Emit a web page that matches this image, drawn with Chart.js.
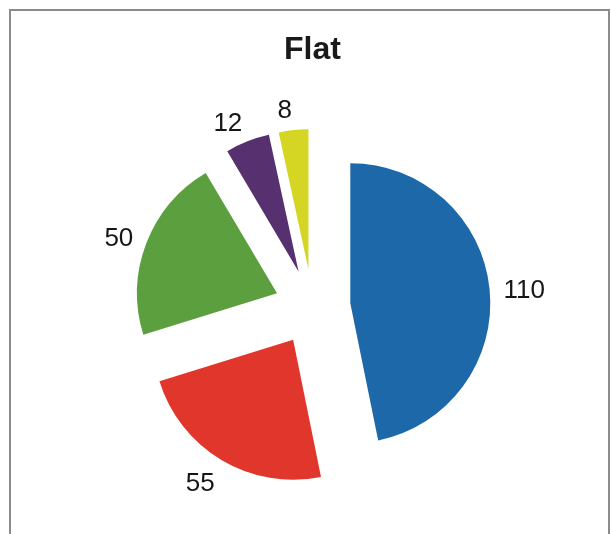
<!DOCTYPE html>
<html>
<head>
<meta charset="utf-8">
<title>Flat</title>
<script src="https://cdn.jsdelivr.net/npm/chart.js@4.4.1/dist/chart.umd.min.js"></script>
<style>
    html, body { margin: 0; padding: 0; background: #fff; overflow: hidden; }
    #wrap { position: relative; width: 611px; height: 534px; }
    #frame { position: absolute; left: 9px; top: 9px; width: 601px; height: 600px; border: 2px solid #8c8c8c; box-sizing: border-box; }
    #pieChart { position: absolute; left: 0; top: 0; }
</style>
</head>
<body>
<div id="wrap">
    <div id="frame"></div>
    <canvas id="pieChart" width="611" height="534"></canvas>
</div>
<script>
// data
const categories = ['Series 1', 'Series 2', 'Series 3', 'Series 4', 'Series 5'];
const values = [110, 55, 50, 12, 8];
const sliceColors = ['#1c68a8', '#e0362b', '#5c9f3e', '#57306f', '#d5d623'];

const EXPLODE = 38;   // px each slice is pulled out from the centre
const FONT = 'Liberation Sans, Arial, sans-serif';

// draw every arc pulled out along its own middle angle
const explodePlugin = {
    id: 'explode',
    beforeDatasetDraw(chart, args) {
        const ctx = chart.ctx;
        args.meta.data.forEach(arc => {
            const mid = (arc.startAngle + arc.endAngle) / 2;
            ctx.save();
            ctx.translate(Math.cos(mid) * EXPLODE, Math.sin(mid) * EXPLODE);
            arc.draw(ctx, chart.chartArea);
            ctx.restore();
        });
        return false;
    }
};

// value labels outside each slice
const valueLabels = {
    id: 'valueLabels',
    afterDatasetsDraw(chart) {
        const ctx = chart.ctx;
        const meta = chart.getDatasetMeta(0);
        ctx.save();
        ctx.font = '26px ' + FONT;
        ctx.fillStyle = '#161616';
        ctx.textAlign = 'center';
        ctx.textBaseline = 'middle';
        meta.data.forEach((arc, i) => {
            const p = arc.getProps(['x', 'y', 'startAngle', 'endAngle', 'outerRadius'], true);
            const mid = (p.startAngle + p.endAngle) / 2;
            const dx = Math.cos(mid), dy = Math.sin(mid);
            const r = p.outerRadius + EXPLODE + 14;
            const text = String(values[i]);
            const halfW = ctx.measureText(text).width / 2;
            const halfH = 9;
            const sx = Math.max(-1, Math.min(1, dx * 10));
            ctx.fillText(text, p.x + dx * r + sx * halfW, p.y + dy * r + dy * halfH + 4);
        });
        ctx.restore();
    }
};

const ctx = document.getElementById('pieChart').getContext('2d');
const pieChart = new Chart(ctx, {
    type: 'pie',
    data: {
        labels: categories,
        datasets: [{
            data: values,
            backgroundColor: sliceColors,
            borderWidth: 0,
            radius: 140
        }]
    },
    options: {
        responsive: false,
        animation: false,
        layout: { padding: { top: 34, left: 14, right: 0, bottom: 0 } },
        plugins: {
            legend: { display: false },
            tooltip: { enabled: false },
            title: {
                display: true,
                text: 'Flat',
                color: '#1a1a1a',
                padding: { top: 0, bottom: 14 },
                font: { family: FONT, size: 32, weight: 'bold', lineHeight: 1 }
            }
        }
    },
    plugins: [explodePlugin, valueLabels]
});
</script>
</body>
</html>
